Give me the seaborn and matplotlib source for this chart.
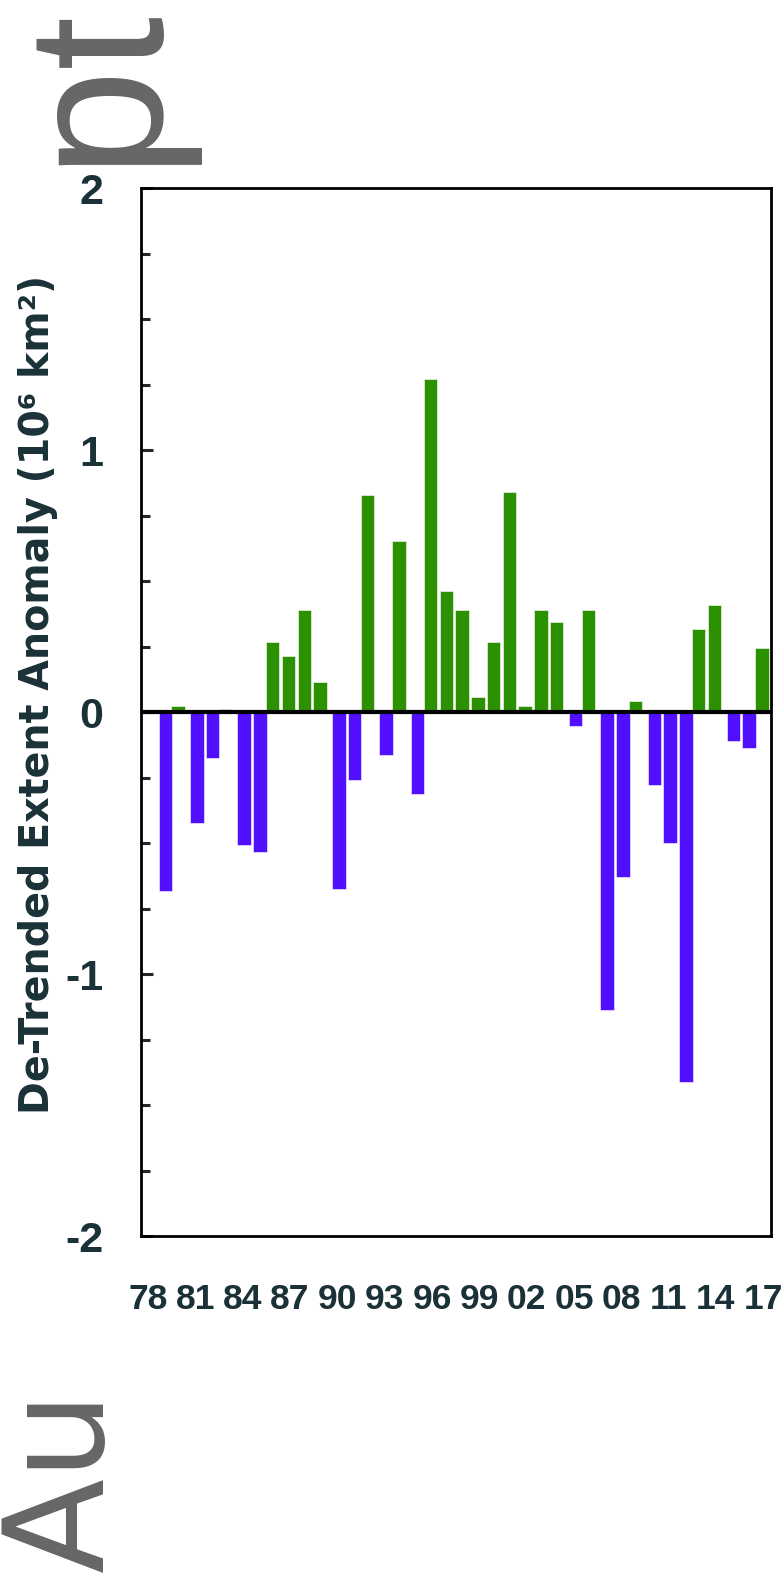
import numpy as np
import pandas as pd
import matplotlib
matplotlib.use("Agg")
import matplotlib.pyplot as plt
from matplotlib.ticker import MultipleLocator, FixedLocator, FixedFormatter
import seaborn as sns

# De-trended September sea-ice extent anomaly, 10^6 km^2
years = list(range(1979, 2018))
anomaly = [
    -0.683, 0.023, -0.424, -0.176, 0.012, -0.507, -0.534, 0.269, 0.215, 0.388,
    0.113, -0.675, -0.258, 0.830, -0.166, 0.654, -0.313, 1.272, 0.463, 0.388,
    0.059, 0.269, 0.839, 0.023, 0.388, 0.343, -0.055, 0.388, -1.136, -0.628,
    0.041, -0.277, -0.499, -1.412, 0.316, 0.408, -0.111, -0.138, 0.244,
]
tick_years = list(range(1978, 2018, 3))
tick_labels = [f"{y % 100:02d}" for y in tick_years]
y_ticks = [-2, -1, 0, 1, 2]
y_tick_labels = ["-2", "-1", "0", "1", "2"]
ylabel_text = "De-Trended Extent Anomaly (10\u2076 km\u00b2)"

GREEN = "#2c9100"
PURPLE = "#5010ff"
INK = "#1b3138"
GRAY = "#666666"
TICK_FONT = ["Liberation Sans", "DejaVu Sans"]

sns.set_style("white")
plt.rcParams["font.family"] = ["DejaVu Sans"]

W, H = 784, 1574
fig = plt.figure(figsize=(W / 100, H / 100), dpi=100)
ax = fig.add_axes([141 / W, (H - 1236) / H, 630 / W, 1048 / H])

df = pd.DataFrame({"year": years, "anomaly": anomaly})
pos = df[df["anomaly"] >= 0].assign(x=lambda d: d["year"] - 0.09)
neg = df[df["anomaly"] < 0].assign(x=lambda d: d["year"] + 0.10)

for part, colour in ((pos, GREEN), (neg, PURPLE)):
    sns.barplot(data=part, x="x", y="anomaly", native_scale=True, width=0.85,
                color=colour, saturation=1, edgecolor="white", linewidth=0.4,
                errorbar=None, ax=ax, zorder=2)

ax.axhline(0, color="black", lw=3.0, zorder=4)

ax.set_xlim(1977.56, 2017.49)
ax.set_ylim(-2, 2)
ax.set_xlabel("")
ax.set_ylabel("")

ax.xaxis.set_major_locator(FixedLocator(tick_years))
ax.xaxis.set_major_formatter(FixedFormatter(tick_labels))
ax.xaxis.set_minor_locator(FixedLocator([]))
ax.yaxis.set_major_locator(FixedLocator(y_ticks))
ax.yaxis.set_major_formatter(FixedFormatter(y_tick_labels))
ax.yaxis.set_minor_locator(MultipleLocator(0.25))

ax.tick_params(axis="x", which="both", length=0, pad=34, labelsize=25.5,
               labelcolor=INK)
ax.tick_params(axis="y", which="major", direction="in", length=8.5, width=2.2,
               pad=27, labelsize=31, labelcolor=INK, left=True, right=False)
ax.tick_params(axis="y", which="minor", direction="in", length=6.2, width=2.2,
               left=True, right=False)
for lab in ax.get_xticklabels() + ax.get_yticklabels():
    lab.set_fontfamily(TICK_FONT)
    lab.set_fontweight("bold")

for side in ("left", "right", "top", "bottom"):
    ax.spines[side].set_visible(True)
    ax.spines[side].set_color("black")
    ax.spines[side].set_linewidth(2.0)

fig.text(38 / W, 1 - 694 / H, ylabel_text, rotation=90, ha="center",
         va="center", fontsize=28.5, fontweight="bold", color=INK,
         family=["DejaVu Sans"])

# large rotated panel words at the page edges
fig.text(103 / W, 2 / H, "Au", rotation=90, rotation_mode="anchor",
         ha="left", va="baseline", fontsize=100, color=GRAY,
         family=["DejaVu Sans"])
fig.text(150 / W, 1 - 3 / H, "pt", rotation=90, rotation_mode="anchor",
         ha="right", va="baseline", fontsize=140, color=GRAY,
         family=["Liberation Sans", "DejaVu Sans"])

fig.savefig("out.png", dpi=100)
